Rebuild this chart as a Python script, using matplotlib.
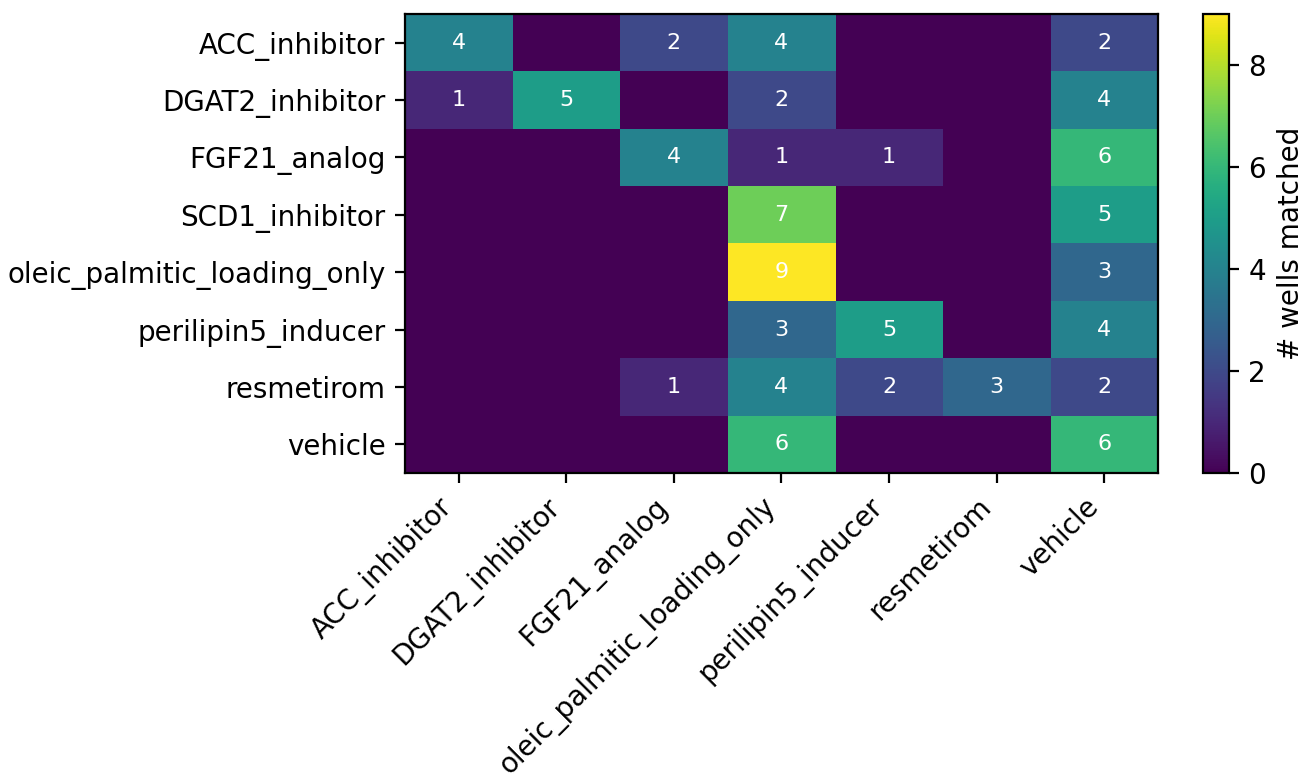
import numpy as np
import matplotlib
matplotlib.use("Agg")
import matplotlib.pyplot as plt

rows = ["ACC_inhibitor", "DGAT2_inhibitor", "FGF21_analog", "SCD1_inhibitor",
        "oleic_palmitic_loading_only", "perilipin5_inducer", "resmetirom", "vehicle"]
cols = ["ACC_inhibitor", "DGAT2_inhibitor", "FGF21_analog", "oleic_palmitic_loading_only",
        "perilipin5_inducer", "resmetirom", "vehicle"]
counts = [
    [4, 0, 2, 4, 0, 0, 2],
    [1, 5, 0, 2, 0, 0, 4],
    [0, 0, 4, 1, 1, 0, 6],
    [0, 0, 0, 7, 0, 0, 5],
    [0, 0, 0, 9, 0, 0, 3],
    [0, 0, 0, 3, 5, 0, 4],
    [0, 0, 1, 4, 2, 3, 2],
    [0, 0, 0, 6, 0, 0, 6],
]

M = np.array(counts)
fig = plt.figure(figsize=(6.54, 3.905), dpi=200)
ax = fig.add_axes([0.3096, 0.3944, 0.5757, 0.5877])
im = ax.imshow(M, cmap="viridis", aspect="auto", vmin=0, vmax=M.max())
ax.set_xticks(range(len(cols)))
ax.set_xticklabels(cols, rotation=45, ha="right")
ax.set_yticks(range(len(rows)))
ax.set_yticklabels(rows)
for i in range(M.shape[0]):
    for j in range(M.shape[1]):
        if M[i, j] > 0:
            ax.text(j, i, str(M[i, j]), ha="center", va="center", color="white", fontsize=8)
cax = fig.add_axes([0.9197, 0.3944, 0.0199, 0.5877])
cb = fig.colorbar(im, cax=cax)
cb.set_ticks([0, 2, 4, 6, 8])
cb.set_label("# wells matched")
fig.savefig("out.png", dpi=200)
